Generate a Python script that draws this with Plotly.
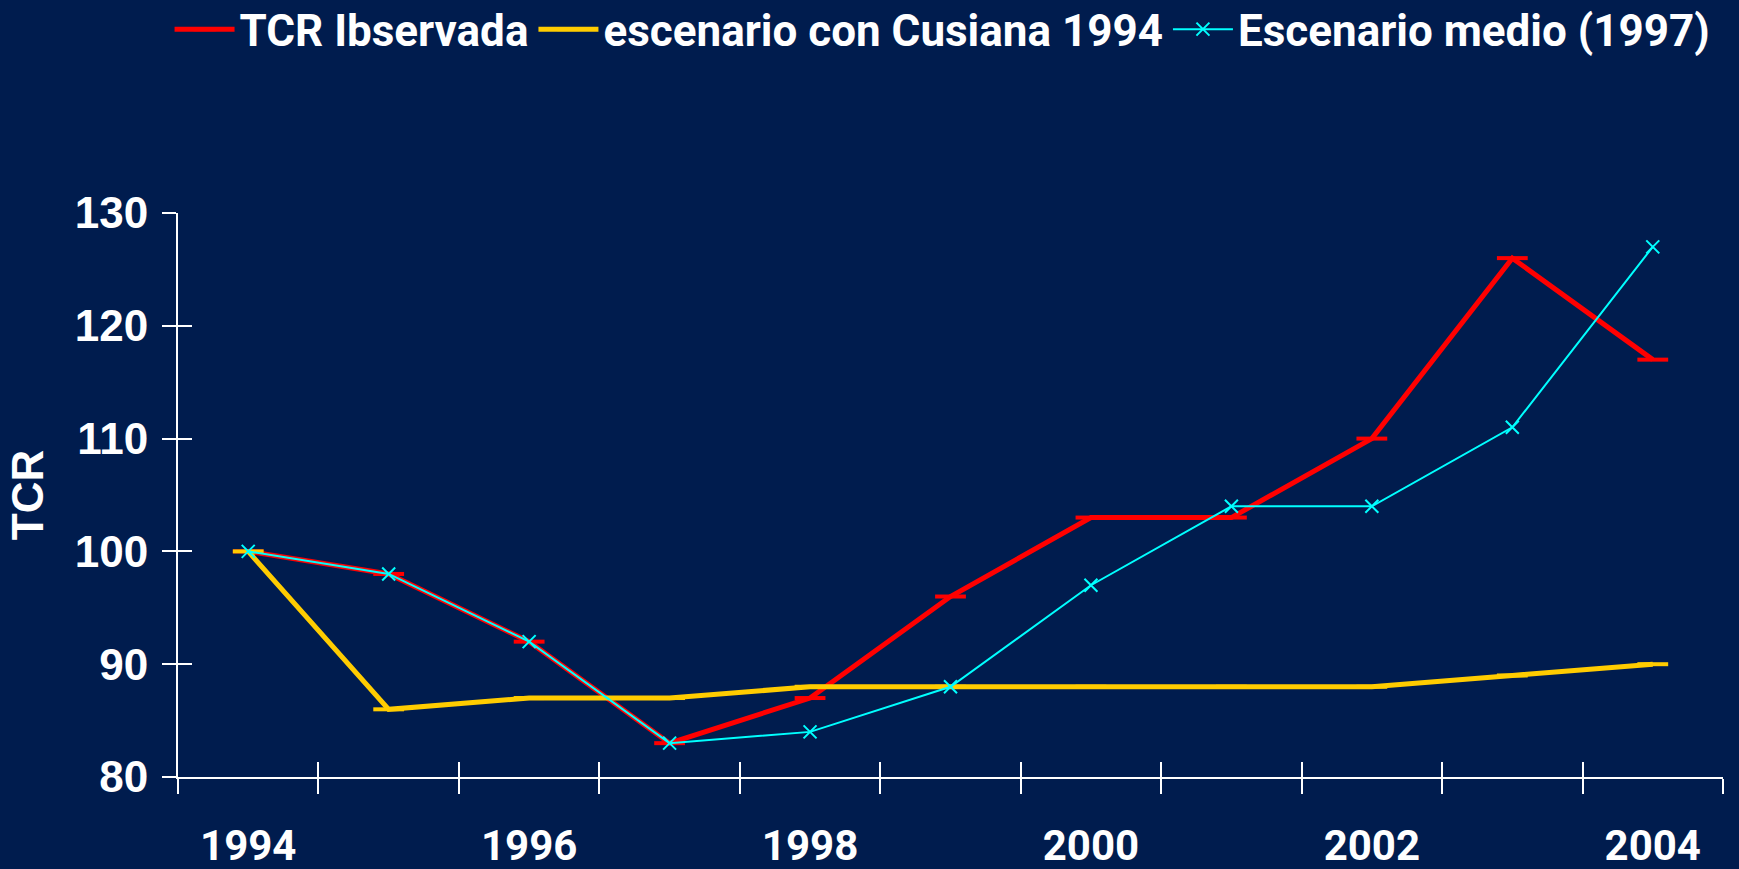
import plotly.graph_objects as go

years = [1994, 1995, 1996, 1997, 1998, 1999, 2000, 2001, 2002, 2003, 2004]
tcr_observada = [100, 98, 92, 83, 87, 96, 103, 103, 110, 126, 117]
escenario_cusiana = [100, 86, 87, 87, 88, 88, 88, 88, 88, 89, 90]
escenario_medio = [100, 98, 92, 83, 84, 88, 97, 104, 104, 111, 127]
label_years = [1994, 1996, 1998, 2000, 2002, 2004]
y_ticks = [80, 90, 100, 110, 120, 130]

BG = "#001C4E"
NARROW = "Roboto, Liberation Sans, sans-serif"
BOLD = "Liberation Sans, Arial, sans-serif"

boundaries = [y - 0.5 for y in years] + [years[-1] + 0.5]

fig = go.Figure()
fig.add_trace(go.Scatter(
    x=years, y=tcr_observada, name="TCR Ibservada", mode="lines+markers",
    line=dict(color="#FF0000", width=5),
    marker=dict(symbol="line-ew", size=22, line=dict(color="#FF0000", width=4), color="#FF0000"),
))
fig.add_trace(go.Scatter(
    x=years, y=escenario_cusiana, name="escenario con Cusiana 1994", mode="lines+markers",
    line=dict(color="#FFCC00", width=5),
    marker=dict(symbol="line-ew", size=22, line=dict(color="#FFCC00", width=4), color="#FFCC00"),
))
fig.add_trace(go.Scatter(
    x=years, y=escenario_medio, name="Escenario medio (1997)", mode="lines+markers",
    line=dict(color="#00FFFF", width=2),
    marker=dict(symbol="x-thin", size=13, line=dict(color="#00FFFF", width=2), color="#00FFFF"),
))
# invisible trace to host the overlay axes (inside half of cross ticks)
fig.add_trace(go.Scatter(x=[], y=[], xaxis="x2", yaxis="y2", showlegend=False, hoverinfo="skip"))

fig.update_layout(
    width=1739, height=869,
    paper_bgcolor=BG, plot_bgcolor=BG,
    margin=dict(l=178, r=16, t=213, b=92, autoexpand=False),
    font=dict(color="white"),
    showlegend=True,
    legend=dict(
        orientation="h", xref="container", yref="container",
        x=0.0975, xanchor="left", y=0.966, yanchor="middle",
        font=dict(family=NARROW, size=44, color="white", weight="bold"),
        bgcolor="rgba(0,0,0,0)", itemwidth=60, tracegroupgap=0,
    ),
    xaxis=dict(
        range=[1993.5, 2004.5], tickmode="array", tickvals=label_years,
        ticktext=[str(v) for v in label_years], ticks="",
        tickfont=dict(family=NARROW, size=42, color="white", weight="bold"),
        ticklabelstandoff=31, automargin=False,
        showline=True, linecolor="white", linewidth=2, showgrid=False, zeroline=False,
        minor=dict(tickmode="array", tickvals=boundaries, ticks="outside", ticklen=15,
                   tickwidth=2, tickcolor="white", showgrid=False),
    ),
    yaxis=dict(
        range=[80, 130], tickmode="array", tickvals=y_ticks, ticks="outside",
        ticklen=14, tickwidth=2, tickcolor="white",
        tickfont=dict(family=BOLD, size=44, color="white", weight="bold"),
        ticklabelstandoff=5, automargin=False,
        showline=True, linecolor="white", linewidth=2, showgrid=False, zeroline=False,
        title=dict(text="TCR", font=dict(family=BOLD, size=44, color="white", weight="bold"), standoff=17),
    ),
    xaxis2=dict(
        range=[1993.5, 2004.5], overlaying="x", anchor="y2", side="bottom",
        tickmode="array", tickvals=boundaries, ticks="inside", ticklen=15,
        tickwidth=2, tickcolor="white", showticklabels=False, showline=False,
        showgrid=False, zeroline=False, automargin=False,
    ),
    yaxis2=dict(
        range=[80, 130], overlaying="y", anchor="x2", side="left",
        tickmode="array", tickvals=y_ticks, ticks="inside", ticklen=14,
        tickwidth=2, tickcolor="white", showticklabels=False, showline=False,
        showgrid=False, zeroline=False, automargin=False,
    ),
)

fig.write_html("out.html", config={"displayModeBar": False},
               post_script="document.body.style.margin='0';")
